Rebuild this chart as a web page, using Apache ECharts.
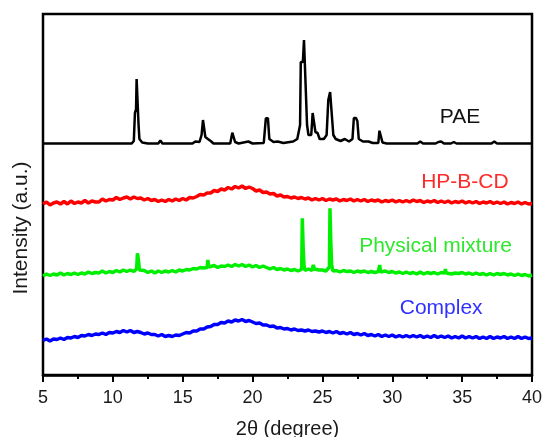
<!DOCTYPE html>
<html>
<head>
<meta charset="utf-8">
<script src="https://cdn.jsdelivr.net/npm/echarts@6.0.0/dist/echarts.min.js"></script>
<style>
html, body { margin: 0; padding: 0; background: #fff; }
#chart { width: 544px; height: 437px; }
</style>
</head>
<body>
<div id="chart"></div>
<script>
"use strict";

// 2-theta range and sampling step of the noisy scans
var X_MIN = 5;
var X_MAX = 40;
var SCAN_STEP = 0.25;

// PAE (crystalline drug), read as [2theta, intensity] points
var paePoints = [
	[5, 231.5], [11.35, 231.5], [11.5, 234], [11.58, 262], [11.66, 266], [11.7, 296], [11.8, 296], [11.84, 250], [11.9, 236],
	[12.1, 232.5], [12.5, 231.5], [13.25, 231.5], [13.4, 234.5], [13.55, 231.5], [15.7, 231.5], [15.9, 233.5], [16.2, 233],
	[16.35, 240], [16.45, 255], [16.55, 255], [16.62, 238], [16.8, 236], [17.0, 234], [17.2, 231.5], [18.4, 231.5],
	[18.55, 242.3], [18.65, 242.3], [18.75, 233], [19.0, 231.5], [19.7, 233.5], [20.0, 231.5], [20.8, 232], [20.95, 256.7],
	[21.1, 256.7], [21.2, 236], [21.5, 233], [21.8, 233.5], [22.2, 232], [22.9, 233.5], [23.2, 236], [23.4, 250],
	[23.45, 313], [23.6, 313], [23.68, 335], [23.82, 335], [23.9, 250], [24.0, 240], [24.2, 240], [24.3, 262], [24.42, 262],
	[24.5, 243], [24.65, 242], [24.8, 236], [25.1, 236], [25.3, 240], [25.42, 275], [25.55, 283], [25.68, 283], [25.78, 240],
	[25.95, 236], [26.3, 234], [26.6, 236], [26.9, 233.5], [27.15, 236], [27.25, 257], [27.4, 257], [27.5, 254], [27.6, 236],
	[27.9, 233.5], [28.3, 233.5], [28.6, 232], [29.0, 232], [29.08, 244.3], [29.22, 244.3], [29.3, 232.5], [29.6, 231.5],
	[31.8, 231.5], [32.0, 233.5], [32.2, 231.5], [33.1, 231.5], [33.3, 233], [33.5, 233.5], [33.7, 231.5], [34.2, 231.5],
	[34.4, 233], [34.6, 231.5], [37.1, 231.5], [37.3, 233.5], [37.5, 231.5], [40, 231.5]
];

// HP-B-CD scan, one value every 0.25 deg from 5 to 40
var hpbcdValues = [
	171, 173, 170, 172, 173, 171, 173.5, 171, 174, 171.5, 173, 172, 174.5, 172, 174, 173,
	173, 176, 174, 175.5, 175, 177.5, 175.5, 177, 178, 176, 178, 176.5, 177, 175, 176.5, 174.5,
	175.5, 173.5, 175, 173.5, 175.5, 174, 176, 174.5, 176.5, 175, 177.5, 177, 178.5, 180.5, 180, 182,
	182, 184.5, 183.5, 186, 185, 187.5, 186, 188.5, 187, 189, 186.5, 188, 186.5, 184, 185, 182.5,
	183, 181, 181.5, 179, 180, 178, 178.5, 177, 178, 176.5, 177.5, 176, 177, 175, 176.5, 175,
	176.5, 174.5, 176, 175, 176, 174, 175.5, 174.5, 176, 174, 175.5, 174, 175.5, 173.5, 175, 174,
	175, 173, 174.5, 173.5, 175, 173, 174.5, 173, 174.5, 173, 175, 173.5, 174.5, 172.5, 174, 173,
	174.5, 172.5, 174, 172.5, 174, 172, 173.5, 172.5, 174, 172, 173.5, 172, 173.5, 171.5, 173, 172,
	173.5, 171.5, 173, 171.5, 173, 171, 172.5, 171.5, 173, 171, 172.5, 171, 171.5
];

// Physical mixture background scan (0.25 deg steps)
var mixtureValues = [
	99, 101, 99.5, 101, 100, 102, 100, 101.5, 100.5, 102, 100.5, 102, 101, 103, 101.5, 102.5,
	102, 104, 102, 103.5, 102.5, 104.5, 103, 105, 103.5, 105, 103.5, 105, 103, 104.5, 102.5, 104,
	102, 104, 102.5, 104, 103, 104.5, 103, 105, 104, 105.5, 105, 106.5, 106, 107.5, 107, 108.5,
	107.5, 109.5, 107.5, 109, 108.5, 110, 108.5, 110.5, 109, 110.5, 108.5, 110, 108, 109.5, 107.5, 109,
	107.5, 106, 107.5, 105.5, 106.5, 105, 106, 104.5, 105.5, 104, 105.5, 104.5, 106, 104.5, 107, 105,
	105, 104, 105, 104, 104.5, 103, 104.5, 103.5, 104, 102.5, 104, 103, 104, 102.5, 103.5, 102.5,
	103.5, 102.5, 104, 102.5, 103.5, 102, 103, 101.5, 103, 101.5, 102.5, 101, 103, 101, 102.5, 101.5,
	102.5, 101, 102.5, 101, 103, 101, 102, 101.5, 102.5, 101, 102, 100.5, 102, 100.5, 101.5, 100,
	101.5, 100, 101.5, 100.5, 101.5, 100, 101, 99.5, 101, 99.5, 100.5, 99, 100
];

// sharp drug reflections riding on the mixture scan
var mixturePeaks = [
	[[11.7, 106], [11.76, 121.7], [11.84, 114], [11.9, 105]],
	[[16.75, 107.5], [16.8, 115], [16.86, 108]],
	[[23.52, 110], [23.56, 156.7], [23.62, 128], [23.68, 110]],
	[[24.3, 106], [24.35, 110], [24.42, 106]],
	[[25.5, 108], [25.54, 166.7], [25.6, 133], [25.66, 110]],
	[[29.05, 104], [29.1, 110], [29.16, 103]],
	[[33.75, 102], [33.8, 106], [33.86, 102]]
];

// Complex scan (0.25 deg steps)
var complexValues = [
	34.5, 36, 34, 36, 35.5, 37, 35.5, 37.5, 37, 38.5, 37.5, 39.5, 39, 40.5, 39.5, 41,
	40.5, 42, 40.5, 42.5, 42, 43.5, 42.5, 44.5, 43, 44.5, 42.5, 43.5, 42.5, 41, 42, 40.5,
	40.5, 39, 40.5, 38.5, 39.5, 38.5, 40, 39.5, 41, 42.5, 42, 44, 44, 46, 46, 48,
	48.5, 50.5, 50.5, 52.5, 52, 54, 53, 55, 54, 55.5, 53.5, 54.5, 53, 51.5, 52, 50,
	50, 48.5, 49, 47, 47.5, 46, 46.5, 45, 46, 44.5, 45, 44, 45, 43.5, 44, 43,
	44, 42.5, 43.5, 42, 43.5, 41.5, 42.5, 41, 42.5, 40.5, 41.5, 40, 41.5, 39.5, 40.5, 39,
	40.5, 38.5, 40, 38.5, 40, 38, 39.5, 38, 39.5, 38, 39.5, 38, 39.5, 37.5, 39, 37.5,
	39.5, 37.5, 39, 37.5, 39, 37, 38.5, 37, 39, 37, 38.5, 37, 38.5, 36.5, 38, 36.5,
	38.5, 36.5, 38, 37, 38.5, 36.5, 38, 36.5, 38.5, 36.5, 38, 36.5, 37
];

// trace names, colours and where their labels sit (data units)
var traceNames = ['PAE', 'HP-B-CD', 'Physical mixture', 'Complex'];
var traceColors = ['#000000', '#ff0000', '#00ee00', '#0000ff'];
var labelColors = ['#111111', '#ff2a2a', '#2ee82e', '#3030ff'];
var labelAnchors = [[34.85, 258], [35.2, 193], [33.1, 129], [33.5, 67]];

var FONT = "'Liberation Sans', Arial, sans-serif";

function scanToPoints(values, peakGroups) {
	var points = [];
	for (var i = 0; i < values.length; i++) {
		var x = +(X_MIN + i * SCAN_STEP).toFixed(2);
		var inside = false;
		(peakGroups || []).forEach(function(group) {
			if (x >= group[0][0] && x <= group[group.length - 1][0]) inside = true;
		});
		if (!inside) points.push([x, values[i]]);
	}
	(peakGroups || []).forEach(function(group) {
		group.forEach(function(p) { points.push(p); });
	});
	points.sort(function(a, b) { return a[0] - b[0]; });
	return points;
}

var seriesData = [
	paePoints,
	scanToPoints(hpbcdValues),
	scanToPoints(mixtureValues, mixturePeaks),
	scanToPoints(complexValues)
];

var chart = echarts.init(document.getElementById('chart'), null, { renderer: 'canvas' });

chart.setOption({
	animation: false,
	backgroundColor: '#ffffff',
	grid: {
		show: true,
		left: 43,
		right: 12,
		top: 14,
		bottom: 62,
		outerBoundsMode: 'none',
		containLabel: false,
		borderColor: '#000',
		borderWidth: 2.5,
		backgroundColor: 'transparent'
	},
	xAxis: {
		type: 'value',
		min: X_MIN,
		max: X_MAX,
		interval: 5,
		name: '2\u03b8 (degree)',
		nameLocation: 'middle',
		nameGap: 44,
		nameTextStyle: { fontFamily: FONT, fontSize: 20, color: '#1a1a1a' },
		axisLine: { lineStyle: { color: '#000', width: 2.5 } },
		axisTick: { inside: false, length: 7, lineStyle: { color: '#000', width: 2 } },
		minorTick: { show: true, splitNumber: 2, length: 4, lineStyle: { color: '#000', width: 2 } },
		splitLine: { show: false },
		minorSplitLine: { show: false },
		axisLabel: { fontFamily: FONT, fontSize: 18, color: '#1a1a1a', margin: 14 }
	},
	yAxis: {
		type: 'value',
		min: 0,
		max: 361,
		axisLine: { show: false },
		axisTick: { show: false },
		axisLabel: { show: false },
		splitLine: { show: false }
	},
	series: traceNames.map(function(name, idx) {
		return {
			name: name,
			type: 'line',
			data: seriesData[idx],
			showSymbol: false,
			clip: true,
			lineStyle: { color: traceColors[idx], width: idx === 0 ? 2.5 : 3.5 },
			itemStyle: { color: traceColors[idx] }
		};
	})
});

var texts = traceNames.map(function(name, idx) {
	var pos = chart.convertToPixel({ gridIndex: 0 }, labelAnchors[idx]);
	return {
		type: 'text',
		x: pos[0],
		y: pos[1],
		style: {
			text: name,
			fill: labelColors[idx],
			font: '21px ' + FONT,
			textAlign: 'center',
			textVerticalAlign: 'middle'
		}
	};
});

texts.push({
	type: 'text',
	x: 21,
	y: 228,
	rotation: Math.PI / 2,
	style: {
		text: 'Intensity (a.u.)',
		fill: '#1a1a1a',
		font: '21px ' + FONT,
		textAlign: 'center',
		textVerticalAlign: 'middle'
	}
});

chart.setOption({ graphic: texts });
</script>
</body>
</html>
